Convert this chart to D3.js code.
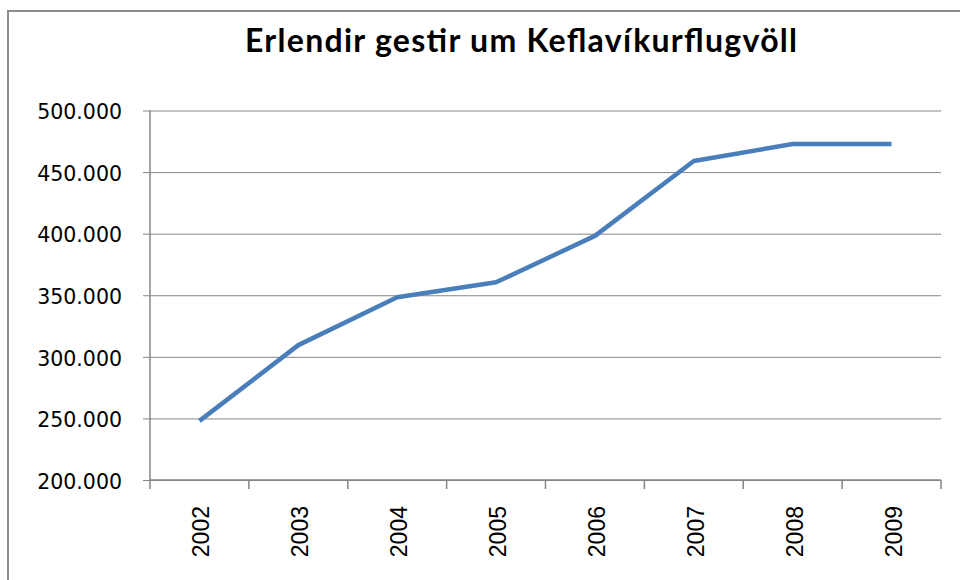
<!DOCTYPE html>
<html>
<head>
<meta charset="utf-8">
<script src="https://cdn.jsdelivr.net/npm/d3@7"></script>
<style>
body { margin: 0; background: #fff; }
</style>
</head>
<body>
<svg id="chart" width="960" height="580"></svg>
<script>
// data
var years = ["2002", "2003", "2004", "2005", "2006", "2007", "2008", "2009"];
var visitors = [248000, 309500, 348300, 360500, 398200, 459000, 472800, 472800];
var yTicks = [200000, 250000, 300000, 350000, 400000, 450000, 500000];
var title = "Erlendir gestir um Keflavíkurflugvöll";

var svg = d3.select("#chart"),
margin = {top: 110.5, right: 19, bottom: 100, left: 150},
width = 941 - margin.left,
height = 480 - margin.top;

// frame around the chart
svg.append("rect")
  .attr("x", 8).attr("y", 11)
  .attr("width", 960).attr("height", 600)
  .attr("fill", "none")
  .attr("stroke", "#8c8c8c")
  .attr("stroke-width", 2);

svg.append("text")
  .attr("x", 521)
  .attr("y", 52)
  .attr("text-anchor", "middle")
  .attr("font-family", "Lato, 'Open Sans', sans-serif")
  .attr("font-weight", "bold")
  .attr("font-size", 32)
  .attr("textLength", 552)
  .attr("lengthAdjust", "spacing")
  .attr("fill", "#000")
  .text(title);

var x = d3.scaleBand().domain(years).range([0, width]),
y = d3.scaleLinear().domain([200000, 500000]).range([height, 0]);

var g = svg.append("g")
  .attr("transform", "translate(" + margin.left + "," + margin.top + ")");

// gridlines + y axis
g.append("g")
  .attr("class", "axis axis--y")
  .call(d3.axisLeft(y).tickValues(yTicks).tickSize(-width).tickPadding(28)
    .tickFormat(function(v) { return d3.format("d")(v / 1000) + ".000"; }))
  .call(function(a) {
    a.select(".domain").remove();
    a.selectAll(".tick line").attr("stroke", "#868686").attr("x1", -7);
    a.selectAll(".tick text")
      .attr("font-family", "'DejaVu Sans', sans-serif")
      .attr("font-size", 20.5)
      .attr("dy", "0.4em")
      .attr("fill", "#000");
  });

g.append("line")
  .attr("x1", 0).attr("x2", 0).attr("y1", 0).attr("y2", height)
  .attr("stroke", "#868686").attr("stroke-width", 1.5);

// x axis
var xa = g.append("g")
  .attr("class", "axis axis--x")
  .attr("transform", "translate(0," + height + ")");

xa.append("line")
  .attr("x1", 0).attr("x2", width)
  .attr("stroke", "#868686").attr("stroke-width", 1.5);

xa.selectAll(".tk")
  .data(d3.range(years.length + 1))
  .enter().append("line")
  .attr("class", "tk")
  .attr("x1", function(i) { return i * x.step(); })
  .attr("x2", function(i) { return i * x.step(); })
  .attr("y1", 0).attr("y2", 9)
  .attr("stroke", "#868686").attr("stroke-width", 1.5);

xa.selectAll(".lbl")
  .data(years)
  .enter().append("text")
  .attr("class", "lbl")
  .attr("transform", function(d) {
    return "translate(" + (x(d) + x.bandwidth() / 2 + 10) + ",26) rotate(-90)";
  })
  .attr("text-anchor", "end")
  .attr("font-family", "'Liberation Sans', Arial, sans-serif")
  .attr("font-size", 23)
  .attr("fill", "#000")
  .text(function(d) { return d; });

var line = d3.line()
  .x(function(d, i) { return x(years[i]) + x.bandwidth() / 2; })
  .y(function(d) { return y(d); });

g.append("path")
  .datum(visitors)
  .attr("d", line)
  .attr("fill", "none")
  .attr("stroke", "#4a7ebb")
  .attr("stroke-width", 4.5)
  .attr("stroke-linejoin", "round");
</script>
</body>
</html>
